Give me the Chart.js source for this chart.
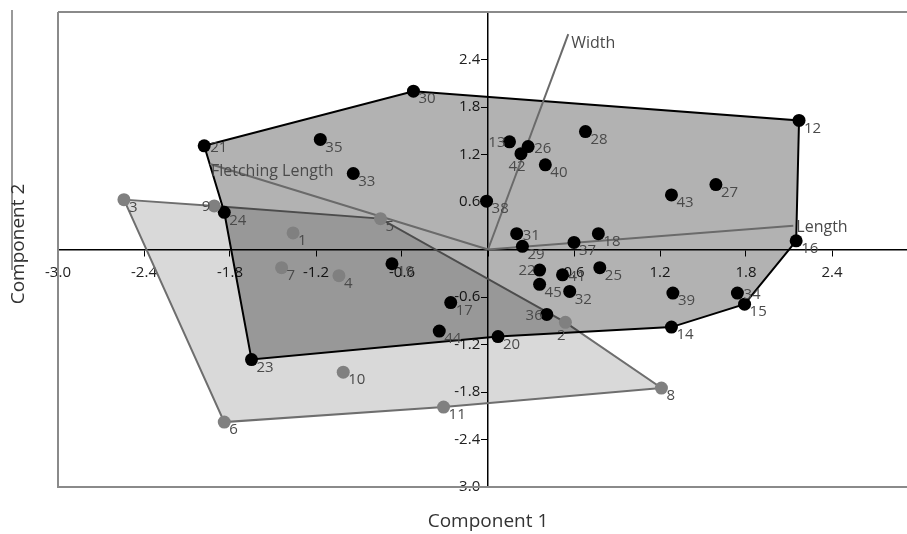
<!DOCTYPE html>
<html><head><meta charset="utf-8">
<script src="https://cdn.jsdelivr.net/npm/chart.js@4/dist/chart.umd.min.js"></script>
<style>html,body{margin:0;padding:0;background:#fff;overflow:hidden;width:907px;height:534px}canvas{display:block}</style>
</head><body><canvas id="c" width="930" height="534"></canvas>
<script>
// ---- data ----
const groupAIds = [1,2,3,4,5,6,7,8,9,10,11];
const groupAX = [-1.36, 0.54, -2.54, -1.04, -0.75, -1.84, -1.44, 1.21, -1.91, -1.01, -0.31];
const groupAY = [0.21, -0.92, 0.63, -0.33, 0.39, -2.18, -0.23, -1.75, 0.55, -1.55, -1.99];

const groupBIds = [12,13,14,15,16,17,18,19,20,21,22,23,24,25,26,27,28,29,30,31,32,33,34,35,36,37,38,39,40,41,42,43,44,45];
const groupBX = [2.17, 0.15, 1.28, 1.79, 2.15, -0.26, 0.77, -0.67, 0.07, -1.98, 0.36, -1.65, -1.84, 0.78, 0.28, 1.59, 0.68, 0.24, -0.52, 0.20, 0.57, -0.94, 1.74, -1.17, 0.41, 0.60, -0.01, 1.29, 0.40, 0.52, 0.23, 1.28, -0.34, 0.36];
const groupBY = [1.63, 1.36, -0.98, -0.69, 0.11, -0.67, 0.20, -0.18, -1.10, 1.31, -0.26, -1.39, 0.47, -0.23, 1.30, 0.82, 1.49, 0.04, 2.00, 0.20, -0.53, 0.96, -0.55, 1.39, -0.82, 0.09, 0.61, -0.55, 1.07, -0.32, 1.21, 0.69, -1.03, -0.44];

const hullAIds = [3, 9, 5, 2, 8, 11, 6];
const hullBIds = [21, 30, 12, 16, 15, 14, 20, 23, 24];

const vectorNames = ['Width', 'Length', 'Fletching Length'];
const vectorX = [0.56, 2.13, -1.94];
const vectorY = [2.72, 0.30, 1.08];

const axisMin = -3.0, axisMax = 3.0, axisStep = 0.6;
const xTitle = 'Component 1', yTitle = 'Component 2';

// ---- label placement (style only) ----
const placeRight = [21, 26, 31, 41, 34];
const placeLeft = [13, 9, 22, 36];
const placeBelow = [42, 2];
const vectorLabelShift = {'Width': [3, 9], 'Length': [3, 2], 'Fletching Length': [1, 7]};

const FONT = "'Open Sans', 'Noto Sans', sans-serif";

function pts(ids, xs, ys) { return ids.map((id, i) => ({x: xs[i], y: ys[i], id})); }
const ptsA = pts(groupAIds, groupAX, groupAY);
const ptsB = pts(groupBIds, groupBX, groupBY);
function hull(hIds, ids, xs, ys) {
  const arr = hIds.map(id => { const i = ids.indexOf(id); return {x: xs[i], y: ys[i]}; });
  arr.push(arr[0]);
  return arr;
}

const datasets = [
  {label: 'A', data: ptsA, pointRadius: 6.5, pointBackgroundColor: '#808080', pointBorderWidth: 0, showLine: false, order: 0},
  {label: 'B', data: ptsB, pointRadius: 6.5, pointBackgroundColor: '#000', pointBorderWidth: 0, showLine: false, order: 0},
];
vectorNames.forEach((n, i) => datasets.push({
  label: n, data: [{x: 0, y: 0}, {x: vectorX[i], y: vectorY[i]}], showLine: true,
  borderColor: '#6a6a6a', borderWidth: 2, pointRadius: 0, order: 1, fill: false
}));
datasets.push({label: 'hullB', data: hull(hullBIds, groupBIds, groupBX, groupBY), showLine: true,
  borderColor: '#000', borderWidth: 2, pointRadius: 0, backgroundColor: 'rgba(0,0,0,0.30)', fill: 'shape', order: 2, tension: 0});
datasets.push({label: 'hullA', data: hull(hullAIds, groupAIds, groupAX, groupAY), showLine: true,
  borderColor: '#6e6e6e', borderWidth: 2, pointRadius: 0, backgroundColor: 'rgba(0,0,0,0.15)', fill: 'shape', order: 3, tension: 0});

const decor = {
  id: 'decor',
  beforeDatasetsDraw(chart) {
    const {ctx, chartArea: a} = chart;
    ctx.save();
    ctx.strokeStyle = '#8a8a8a'; ctx.lineWidth = 2;
    ctx.beginPath();
    ctx.moveTo(a.left, a.top); ctx.lineTo(a.right, a.top);
    ctx.moveTo(a.left, a.top); ctx.lineTo(a.left, a.bottom); ctx.lineTo(a.right, a.bottom);
    ctx.stroke();
    ctx.strokeStyle = '#777'; ctx.lineWidth = 1.5;
    ctx.beginPath(); ctx.moveTo(12, 10); ctx.lineTo(12, 270); ctx.stroke();
    ctx.restore();
  },
  afterDatasetsDraw(chart) {
    const {ctx} = chart;
    ctx.save();
    ctx.font = '15px ' + FONT;
    ctx.fillStyle = '#4a4a4a';
    [0, 1].forEach(di => {
      const meta = chart.getDatasetMeta(di);
      meta.data.forEach((el, j) => {
        const id = chart.data.datasets[di].data[j].id;
        const t = String(id);
        let x = el.x, y = el.y;
        if (placeRight.includes(id)) { ctx.textAlign = 'left'; ctx.textBaseline = 'middle'; ctx.fillText(t, x + 6, y + 2); }
        else if (placeLeft.includes(id)) { ctx.textAlign = 'right'; ctx.textBaseline = 'middle'; ctx.fillText(t, x - 4, y + 1); }
        else if (placeBelow.includes(id)) { ctx.textAlign = 'center'; ctx.textBaseline = 'middle'; ctx.fillText(t, x - 4, y + 13); }
        else { ctx.textAlign = 'left'; ctx.textBaseline = 'middle'; ctx.fillText(t, x + 5, y + 8); }
      });
    });
    ctx.font = '16px ' + FONT;
    vectorNames.forEach((n, i) => {
      const meta = chart.getDatasetMeta(2 + i);
      const el = meta.data[1];
      const s = vectorLabelShift[n];
      ctx.textAlign = 'left'; ctx.textBaseline = 'middle';
      ctx.fillText(n, el.x + s[0], el.y + s[1]);
    });
    ctx.restore();
  },
  afterDraw(chart) {
    const {ctx} = chart;
    ctx.save();
    ctx.font = '19px ' + FONT;
    ctx.fillStyle = '#333';
    ctx.textAlign = 'center'; ctx.textBaseline = 'middle';
    ctx.fillText(xTitle, chart.scales.x.getPixelForValue(0), 522);
    ctx.translate(19, 244); ctx.rotate(-Math.PI / 2);
    ctx.fillText(yTitle, 0, 0);
    ctx.restore();
  }
};

const hidden = (v) => Math.abs(v) < 1e-9 || Math.abs(v - axisMax) < 1e-9;
const axisCommon = {
  type: 'linear', min: axisMin, max: axisMax,
  grid: {drawOnChartArea: false, drawTicks: true, tickLength: 6, tickColor: '#000', tickWidth: 1},
  border: {display: true, color: '#000', width: 1.5}
};
const tickFont = {family: FONT, size: 15};

new Chart(document.getElementById('c'), {
  type: 'scatter',
  data: {datasets},
  options: {
    responsive: false, animation: false, devicePixelRatio: 1,
    layout: {padding: {left: 58, top: 12, right: 12, bottom: 47}},
    plugins: {legend: {display: false}, tooltip: {enabled: false}},
    scales: {
      x: Object.assign({}, axisCommon, {position: {y: 0},
        ticks: {stepSize: axisStep, autoSkip: false, maxRotation: 0, color: '#222', font: tickFont, padding: 8,
          callback: v => hidden(v) ? '' : Number(v).toFixed(1)}}),
      y: Object.assign({}, axisCommon, {position: {x: 0},
        ticks: {stepSize: axisStep, autoSkip: false, color: '#222', font: tickFont,
          callback: v => hidden(v) ? '' : Number(v).toFixed(1) + '  '}})
    }
  },
  plugins: [decor]
});
</script></body></html>
